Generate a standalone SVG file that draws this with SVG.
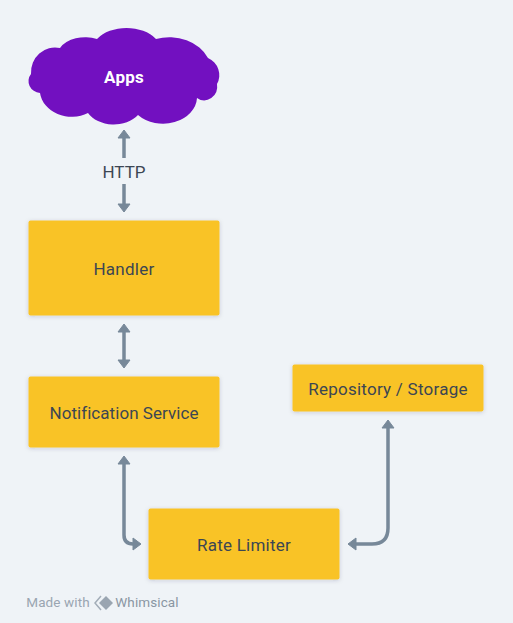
<svg xmlns="http://www.w3.org/2000/svg" width="513" height="623" viewBox="0 0 513 623">
<style>
text{font-family:"Roboto","Noto Sans","Liberation Sans",sans-serif;font-size:17px;fill:#3c4653;text-anchor:middle;font-weight:400;letter-spacing:.25px}
.box{fill:#f9c326;filter:url(#sh)}
.c{fill:none;stroke:#778899;stroke-width:3.5;stroke-linejoin:round}
.h{fill:#778899;stroke:#778899;stroke-width:1;stroke-linejoin:round}
</style>
<defs><filter id="sh" x="-10%" y="-10%" width="120%" height="125%"><feDropShadow dx="0" dy="1" stdDeviation="2" flood-color="#334" flood-opacity=".18"/></filter></defs>
<rect width="513" height="623" fill="#eff3f7"/>
<g id="connectors">
<path class="c" d="M124 158V136"/><path class="h" d="M124 130l6 8h-12z"/>
<path class="c" d="M124 184V206"/><path class="h" d="M124 212l6-8h-12z"/>
<path class="c" d="M124 330V362"/><path class="h" d="M124 324l6 8h-12z"/><path class="h" d="M124 368l6-8h-12z"/>
<path class="c" d="M124 462V535Q124 544 133 544H136"/><path class="h" d="M124 456l6 8h-12z"/><path class="h" d="M141 544l-8-6v12z"/>
<path class="c" d="M388 426V528Q388 544 372 544H354"/><path class="h" d="M388 420l6 8h-12z"/><path class="h" d="M348 544l8-6v12z"/>
</g>
<g id="apps"><path fill="#7210c0" d="M97 39A36 26 0 0 1 156 39A42 34 0 0 1 208 58A20 19 0 0 1 217 84A13 14 0 0 1 197 98A34 27 0 0 1 138 115A29 21 0 0 1 88 113A32 27 0 0 1 40 93A13 12 0 0 1 31 74A24 25 0 0 1 60 48A28 19 0 0 1 97 39Z"/><text x="124" y="83" style="fill:#fff;font-weight:700">Apps</text></g>
<g id="http"><text x="124" y="178" style="letter-spacing:0">HTTP</text></g>
<g id="handler"><rect class="box" x="28.500" y="220.500" width="191" height="95" rx="2"/><text x="124" y="274.500">Handler</text></g>
<g id="notification-service"><rect class="box" x="28.500" y="376.500" width="191" height="71" rx="2"/><text x="124" y="419" style="letter-spacing:.05px">Notification Service</text></g>
<g id="repository-storage"><rect class="box" x="292.500" y="364.500" width="191" height="47" rx="2"/><text x="388" y="395">Repository / Storage</text></g>
<g id="rate-limiter"><rect class="box" x="148.500" y="508.500" width="191" height="71" rx="2"/><text x="244" y="551">Rate Limiter</text></g>
<g id="watermark"><text x="58" y="607" style="font-size:13.500px;fill:#9aa5b1;letter-spacing:.1px">Made with</text>
<path fill="none" stroke="#a3adb8" stroke-width="1.5" d="M101 596L95 603L101 610"/><path fill="#9aa5b1" d="M106 596l7 7-7 7-7-7z"/>
<text x="147" y="607" style="font-size:13.500px;fill:#8a96a3;letter-spacing:.1px">Whimsical</text></g>
</svg>
